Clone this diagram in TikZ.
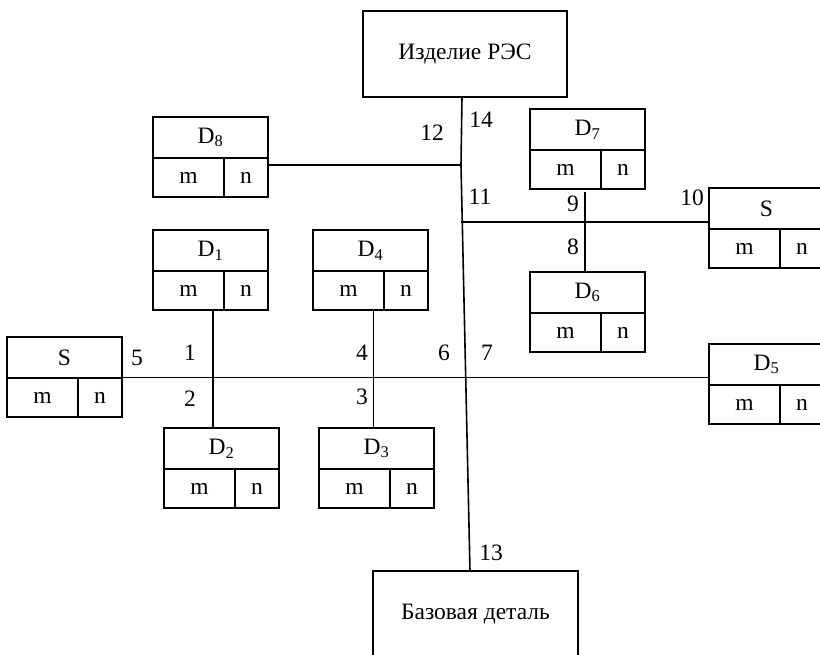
\documentclass[tikz,border=0pt]{standalone}
\usepackage{fontspec}
\setmainfont{Liberation Serif}
\usetikzlibrary{calc}
\newcommand\partbox[4]{%
  \node[topcell] (#1) at (#2,#3) {#4};
  \node[mcell] (#1m) at (#1.south west) {m};
  \node[ncell] (#1n) at (#1.south east) {n};}
\begin{document}
\begin{tikzpicture}[x=1pt,y=-1pt,
  every node/.style={inner sep=0pt,outer sep=0pt,font=\fontsize{23.5}{28}\selectfont},
  cell/.style={draw,line width=1.9pt},
  topcell/.style={cell,minimum width=115pt,minimum height=41pt,anchor=north west},
  mcell/.style={cell,minimum width=71pt,minimum height=39pt,anchor=north west},
  ncell/.style={cell,minimum width=44pt,minimum height=39pt,anchor=north east},
  bigbox/.style={draw,line width=1.9pt,minimum height=86pt,anchor=north west},
  link/.style={line width=1.6pt}]
\clip (0,0) rectangle (820,654);
% main boxes
\node[bigbox,minimum width=204pt] (top) at (363,11) {Изделие РЭС};
\node[bigbox,minimum width=205pt] (bot) at (373,571) {Базовая деталь};
% parts
\partbox{d8}{153}{117}{D\textsubscript{8}}
\partbox{d1}{153}{230}{D\textsubscript{1}}
\partbox{d4}{313}{230}{D\textsubscript{4}}
\partbox{sl}{7}{337}{S}
\partbox{d2}{164}{428}{D\textsubscript{2}}
\partbox{d3}{319}{428}{D\textsubscript{3}}
\partbox{d7}{530}{109}{D\textsubscript{7}}
\partbox{d6}{530}{272}{D\textsubscript{6}}
\partbox{sr}{709}{188}{S}
\partbox{d5}{709}{344}{D\textsubscript{5}}
% helper coordinates
\coordinate (xt) at (462,0);
\coordinate (xb) at (470,0);
\coordinate (j12) at (461,165);
\coordinate (j11) at (461,222);
\coordinate (h5) at (0,377.5);
\coordinate (v1) at (213,0);
\coordinate (v4) at (373.5,0);
\coordinate (v9) at (585,192);
% connectors
\draw[link] (top.south -| xt) -- (j12) -- (bot.north -| xb);
\draw[link] (d8n.east |- j12) -- (j12);
\draw[link] (j11) -- (j11 -| sr.west);
\draw[link] (v9) -- (d6.north -| v9);
\draw[link] (sln.east |- h5) -- (d5.west |- h5);
\draw[link] (d1m.south -| v1) -- (d2.north -| v1);
\draw[link] (d4m.south -| v4) -- (d3.north -| v4);
% numbers
\node (n12) at (432,133) {12};
\node (n14) at (481,120) {14};
\node (n11) at (480,197) {11};
\node (n9) at (573,204) {9};
\node (n10) at (692,198) {10};
\node (n8) at (573,247) {8};
\node (n5) at (137,358) {5};
\node (n1) at (190,353) {1};
\node (n2) at (190,399) {2};
\node (n4) at (362,353) {4};
\node (n6) at (444,353) {6};
\node (n7) at (487,353) {7};
\node (n3) at (362,397) {3};
\node (n13) at (491,553) {13};
\end{tikzpicture}
\end{document}
